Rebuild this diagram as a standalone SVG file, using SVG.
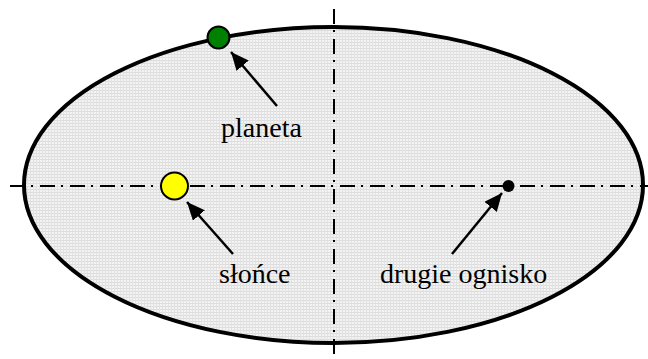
<svg xmlns="http://www.w3.org/2000/svg" width="648" height="359" viewBox="0 0 648 359">
<style>
.axis{stroke:#000;stroke-width:2;fill:none;stroke-dasharray:15 6 2 7}
.arrow{stroke:#000;stroke-width:2.5;fill:none;marker-end:url(#ah)}
.lbl{font-family:'Liberation Serif','Times New Roman',serif;font-size:28px;fill:#000}
</style>
<defs>
<pattern id="grid" width="3" height="3" patternUnits="userSpaceOnUse">
<rect width="3" height="3" fill="#f3f3f3"/>
<rect width="3" height="1" fill="#dcdcdc"/>
<rect width="1" height="3" fill="#e2e2e2"/>
</pattern>
<marker id="ah" markerUnits="userSpaceOnUse" markerWidth="20" markerHeight="16" refX="18" refY="8" orient="auto">
<path d="M0,0 L18,8 L0,16 Z" fill="#000"/>
</marker>
</defs>
<g id="orbit">
<ellipse cx="333.5" cy="185" rx="309.5" ry="158" fill="url(#grid)"/>
</g>
<g id="connectors">
<line class="axis" x1="10" y1="186" x2="648" y2="186"/>
<line class="axis" x1="334" y1="9" x2="334" y2="359"/>
<ellipse cx="333.5" cy="185" rx="309.5" ry="158" fill="none" stroke="#000" stroke-width="4"/>
<line class="arrow" x1="277" y1="106" x2="231" y2="52"/>
<line class="arrow" x1="233" y1="254" x2="187" y2="202"/>
<line class="arrow" x1="452" y1="254" x2="502" y2="193"/>
</g>
<g id="planet">
<circle cx="218.5" cy="37.5" r="11" fill="#008000" stroke="#000" stroke-width="2"/>
</g>
<g id="sun">
<circle cx="174.5" cy="186" r="13.5" fill="#ffff00" stroke="#000" stroke-width="2"/>
</g>
<g id="focus">
<circle cx="508.5" cy="186" r="6" fill="#000"/>
</g>
<g id="labels">
<text class="lbl" x="221" y="137">planeta</text>
<text class="lbl" x="219" y="283">słońce</text>
<text class="lbl" x="380" y="283">drugie ognisko</text>
</g>
</svg>
